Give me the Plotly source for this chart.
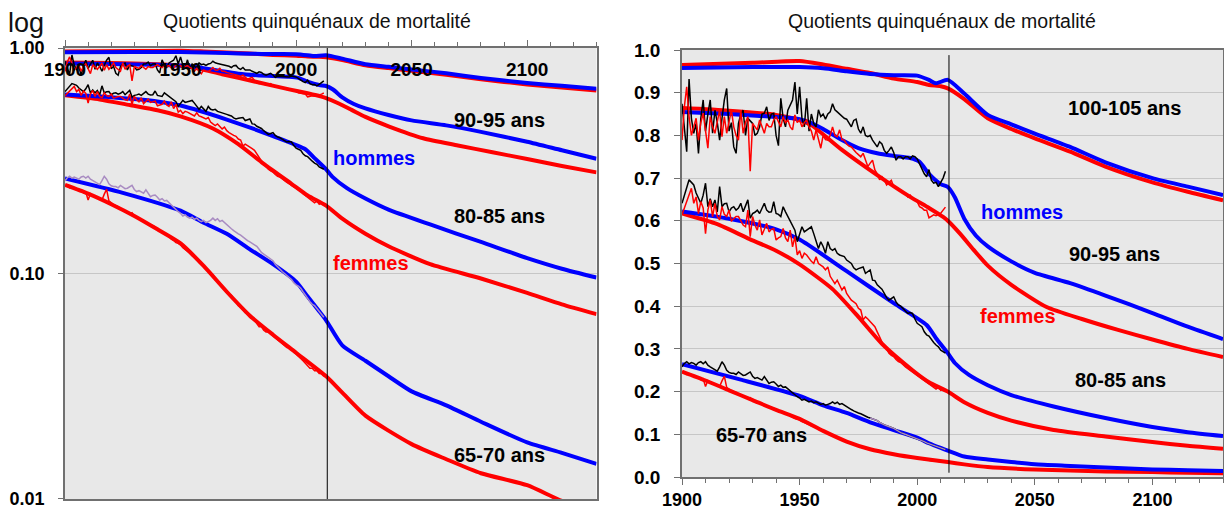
import plotly.graph_objects as go

# ---------------- data ----------------
OBS_START = 1900          # observed series are annual from 1900
PROJ_START = 2013.5       # start of projections (vertical line)

# observed quotients (annual, 1900-2012)
M90_OBS = [0.874, 0.82, 0.762, 0.932, 0.84, 0.805, 0.828, 0.758, 0.84, 0.883,
           0.81, 0.85, 0.883, 0.805, 0.859, 0.83, 0.789, 0.84, 0.883, 0.91,
           0.81, 0.83, 0.773, 0.758, 0.828, 0.85, 0.859, 0.80, 0.84, 0.834,
           0.828, 0.80, 0.805, 0.82, 0.85, 0.852, 0.867, 0.835, 0.85, 0.852,
           0.80, 0.776, 0.887, 0.84, 0.82, 0.859, 0.87, 0.883, 0.925, 0.85,
           0.914, 0.84, 0.82, 0.887, 0.81, 0.85, 0.828, 0.82, 0.86, 0.844,
           0.85, 0.838, 0.85, 0.855, 0.874, 0.86, 0.855, 0.85, 0.845, 0.84,
           0.838, 0.83, 0.82, 0.835, 0.838, 0.815, 0.805, 0.82, 0.80, 0.797,
           0.80, 0.789, 0.78, 0.773, 0.785, 0.78, 0.765, 0.758, 0.765, 0.773,
           0.76, 0.742, 0.75, 0.75, 0.745, 0.75, 0.75, 0.745, 0.752, 0.75,
           0.745, 0.734, 0.72, 0.71, 0.703, 0.72, 0.695, 0.688, 0.69, 0.68,
           0.69, 0.70, 0.716]
W90_OBS = [0.789, 0.867, 0.914, 0.844, 0.80, 0.82, 0.84, 0.789, 0.83, 0.852,
           0.813, 0.77, 0.844, 0.82, 0.805, 0.83, 0.859, 0.797, 0.844, 0.805,
           0.83, 0.859, 0.82, 0.80, 0.789, 0.859, 0.805, 0.83, 0.844, 0.716,
           0.828, 0.82, 0.813, 0.836, 0.82, 0.805, 0.828, 0.82, 0.82, 0.836,
           0.844, 0.83, 0.82, 0.844, 0.83, 0.836, 0.82, 0.813, 0.848, 0.83,
           0.836, 0.82, 0.83, 0.836, 0.82, 0.81, 0.789, 0.813, 0.79, 0.77,
           0.80, 0.79, 0.789, 0.80, 0.82, 0.80, 0.797, 0.813, 0.79, 0.789,
           0.78, 0.775, 0.773, 0.766, 0.76, 0.755, 0.75, 0.758, 0.74, 0.727,
           0.735, 0.742, 0.719, 0.71, 0.696, 0.703, 0.695, 0.684, 0.69, 0.695,
           0.68, 0.678, 0.675, 0.672, 0.668, 0.664, 0.656, 0.66, 0.652, 0.649,
           0.645, 0.633, 0.63, 0.625, 0.625, 0.607, 0.61, 0.614, 0.612, 0.616,
           0.618, 0.625, 0.632]
M80_OBS = [0.641, 0.66, 0.68, 0.696, 0.69, 0.684, 0.665, 0.652, 0.641, 0.66,
           0.688, 0.633, 0.652, 0.633, 0.649, 0.621, 0.68, 0.633, 0.64, 0.641,
           0.621, 0.63, 0.633, 0.625, 0.63, 0.641, 0.621, 0.635, 0.649, 0.606,
           0.617, 0.62, 0.625, 0.617, 0.63, 0.641, 0.625, 0.62, 0.621, 0.645,
           0.617, 0.615, 0.61, 0.633, 0.621, 0.61, 0.602, 0.59, 0.578, 0.551,
           0.57, 0.586, 0.574, 0.578, 0.582, 0.586, 0.57, 0.555, 0.535, 0.551,
           0.54, 0.524, 0.551, 0.535, 0.531, 0.535, 0.524, 0.52, 0.518, 0.516,
           0.508, 0.504, 0.50, 0.49, 0.485, 0.488, 0.49, 0.492, 0.477, 0.48,
           0.485, 0.461, 0.46, 0.45, 0.446, 0.44, 0.43, 0.42, 0.414, 0.418,
           0.422, 0.41, 0.403, 0.40, 0.395, 0.39, 0.383, 0.385, 0.383, 0.37,
           0.36, 0.356, 0.352, 0.34, 0.333, 0.33, 0.321, 0.315, 0.309, 0.305,
           0.297, 0.294, 0.29]
W80_OBS = [0.614, 0.63, 0.649, 0.66, 0.676, 0.641, 0.656, 0.617, 0.645, 0.63,
           0.57, 0.625, 0.649, 0.61, 0.641, 0.61, 0.602, 0.633, 0.615, 0.61,
           0.625, 0.60, 0.606, 0.61, 0.61, 0.60, 0.59, 0.586, 0.625, 0.563,
           0.61, 0.59, 0.578, 0.602, 0.567, 0.58, 0.594, 0.574, 0.58, 0.582,
           0.555, 0.56, 0.563, 0.582, 0.56, 0.551, 0.578, 0.539, 0.563, 0.52,
           0.53, 0.512, 0.524, 0.52, 0.512, 0.505, 0.50, 0.516, 0.50, 0.496,
           0.492, 0.485, 0.492, 0.47, 0.461, 0.453, 0.461, 0.45, 0.438, 0.446,
           0.43, 0.422, 0.414, 0.41, 0.406, 0.395, 0.391, 0.368, 0.375, 0.37,
           0.364, 0.358, 0.352, 0.34, 0.329, 0.318, 0.305, 0.30, 0.29, 0.285,
           0.282, 0.275, 0.27, 0.268, 0.262, 0.258, 0.254, 0.25, 0.248, 0.243,
           0.24, 0.236, 0.232, 0.226, 0.222, 0.218, 0.215, 0.21, 0.206, 0.21,
           0.203, 0.206, 0.20]
M65_OBS = [0.258, 0.266, 0.27, 0.265, 0.268, 0.266, 0.262, 0.268, 0.27, 0.265,
           0.27, 0.262, 0.258, 0.255, 0.25, 0.248, 0.258, 0.27, 0.262, 0.25,
           0.245, 0.243, 0.243, 0.24, 0.246, 0.242, 0.238, 0.239, 0.242, 0.246,
           0.236, 0.231, 0.233, 0.23, 0.227, 0.235, 0.228, 0.219, 0.222, 0.223,
           0.218, 0.212, 0.215, 0.21, 0.211, 0.206, 0.203, 0.198, 0.192, 0.188,
           0.185, 0.18, 0.182, 0.178, 0.176, 0.178, 0.174, 0.176, 0.172, 0.17,
           0.172, 0.168, 0.17, 0.172, 0.176, 0.172, 0.175, 0.17, 0.172, 0.168,
           0.165, 0.162, 0.158, 0.155, 0.152, 0.15, 0.148, 0.145, 0.142, 0.14,
           0.138, 0.136, 0.135, 0.132, 0.128, 0.124, 0.122, 0.12, 0.117, 0.116,
           0.114, 0.11, 0.107, 0.104, 0.102, 0.10, 0.098, 0.096, 0.094, 0.091,
           0.089, 0.088, 0.086, 0.083, 0.08, 0.078, 0.075, 0.073, 0.072, 0.07,
           0.068, 0.066, 0.064]
W65_OBS = [0.246, 0.244, 0.24, 0.242, 0.238, 0.236, 0.233, 0.232, 0.228, 0.23,
           0.212, 0.226, 0.222, 0.218, 0.216, 0.214, 0.212, 0.225, 0.236, 0.21,
           0.205, 0.202, 0.20, 0.198, 0.194, 0.19, 0.188, 0.186, 0.184, 0.186,
           0.18, 0.178, 0.176, 0.172, 0.17, 0.168, 0.166, 0.164, 0.162, 0.161,
           0.157, 0.156, 0.153, 0.15, 0.148, 0.146, 0.142, 0.14, 0.137, 0.136,
           0.134, 0.13, 0.128, 0.126, 0.123, 0.12, 0.118, 0.116, 0.112, 0.11,
           0.108, 0.106, 0.102, 0.101, 0.098, 0.094, 0.093, 0.09, 0.088, 0.086,
           0.082, 0.081, 0.08, 0.077, 0.075, 0.072, 0.071, 0.069, 0.067, 0.066,
           0.064, 0.063, 0.062, 0.06, 0.058, 0.058, 0.056, 0.055, 0.055, 0.054,
           0.053, 0.052, 0.051, 0.05, 0.049, 0.048, 0.047, 0.047, 0.046, 0.045,
           0.044, 0.043, 0.042, 0.041, 0.04, 0.039, 0.038, 0.038, 0.037, 0.037,
           0.036, 0.036, 0.035]
M65_LILAC_FROM = 1980     # right panel: other source overlaid from this year

# smoothed / projected quotients
S100_M_YEARS = [1900, 1930, 1950, 1960, 1970, 1980, 1990, 2000, 2005, 2008, 2013, 2020,
                2030, 2040, 2050, 2065, 2080, 2100, 2115, 2130]
S100_M = [0.958, 0.96, 0.96, 0.957, 0.95, 0.944, 0.941, 0.94, 0.93, 0.922, 0.93, 0.898,
          0.848, 0.826, 0.804, 0.773, 0.737, 0.70, 0.68, 0.66]
S100_F_YEARS = [1900, 1930, 1950, 1960, 1970, 1980, 1990, 2000, 2005, 2010, 2013, 2020,
                2030, 2040, 2050, 2065, 2080, 2100, 2115, 2130]
S100_F = [0.965, 0.97, 0.974, 0.966, 0.956, 0.946, 0.933, 0.925, 0.918, 0.915, 0.91, 0.885,
          0.84, 0.815, 0.793, 0.762, 0.727, 0.69, 0.668, 0.648]
S90_M_YEARS = [1900, 1920, 1940, 1950, 1955, 1960, 1968, 1975, 1983, 1990, 1997, 2001, 2005,
               2010, 2013, 2016, 2020, 2025, 2030, 2040, 2050, 2065, 2080, 2100, 2115, 2130]
S90_M = [0.855, 0.85, 0.843, 0.838, 0.829, 0.815, 0.789, 0.77, 0.758, 0.752, 0.747, 0.738, 0.71,
         0.686, 0.679, 0.655, 0.605, 0.565, 0.54, 0.505, 0.478, 0.454, 0.425, 0.384, 0.352, 0.323]
S90_F_YEARS = [1900, 1920, 1940, 1950, 1955, 1968, 1983, 1997, 2005, 2011, 2013, 2018, 2024,
               2030, 2040, 2055, 2070, 2085, 2100, 2115, 2130]
S90_F = [0.864, 0.858, 0.848, 0.836, 0.824, 0.766, 0.707, 0.656, 0.63, 0.609, 0.60, 0.571, 0.532,
         0.495, 0.45, 0.398, 0.37, 0.345, 0.322, 0.30, 0.281]
S80_M_YEARS = [1900, 1920, 1940, 1950, 1970, 1990, 2004, 2008, 2013, 2016, 2022, 2030, 2040,
               2058, 2080, 2100, 2115, 2130]
S80_M = [0.622, 0.605, 0.58, 0.556, 0.482, 0.407, 0.356, 0.325, 0.29, 0.267, 0.239, 0.215, 0.192,
         0.165, 0.138, 0.117, 0.105, 0.096]
S80_F_YEARS = [1900, 1915, 1928, 1940, 1950, 1964, 1975, 1985, 1998, 2005, 2013, 2020, 2030,
               2040, 2058, 2080, 2100, 2115, 2130]
S80_F = [0.617, 0.592, 0.559, 0.53, 0.498, 0.44, 0.375, 0.312, 0.25, 0.222, 0.20, 0.175, 0.15,
         0.132, 0.11, 0.095, 0.082, 0.073, 0.066]
S65_M_YEARS = [1900, 1925, 1950, 1960, 1970, 1980, 1990, 2000, 2005, 2010, 2013, 2020, 2030,
               2040, 2050, 2065, 2080, 2100, 2115, 2130]
S65_M = [0.264, 0.228, 0.19, 0.168, 0.15, 0.128, 0.11, 0.092, 0.079, 0.068, 0.062, 0.048, 0.041,
         0.035, 0.030, 0.026, 0.022, 0.0178, 0.016, 0.0143]
S65_F_YEARS = [1900, 1910, 1920, 1930, 1940, 1950, 1960, 1970, 1980, 1990, 2000, 2013, 2020,
               2030, 2050, 2065, 2080, 2100, 2115, 2130]
S65_F = [0.247, 0.226, 0.203, 0.18, 0.157, 0.136, 0.108, 0.083, 0.065, 0.0535, 0.0445, 0.035,
         0.0296, 0.0234, 0.0175, 0.015, 0.013, 0.0115, 0.0098, 0.0088]

TITLE = "Quotients quinquénaux de mortalité"
X_TICKS = [1900, 1950, 2000, 2050, 2100]
LOG_TICKS = [0.01, 0.1, 1.0]
LOG_TICKTEXT = ["0.01", "0.10", "1.00"]

# ---------------- style ----------------
W, H = 1224, 510
BLUE, RED, BLACK, LILAC = "#0000ff", "#ff0000", "#000000", "#a98cc2"
FONT = "Arial, Liberation Sans, sans-serif"
BG = "#e8e8e8"
GRID = "#c6c6c6"
AXC = "#707070"
LEFT_TOP, LEFT_BOTTOM = 48, 499


def years(arr):
    return list(range(OBS_START, OBS_START + len(arr)))


fig = go.Figure()


def add_panel(xa, ya, observed):
    smooth = [(S100_F_YEARS, S100_F, RED), (S100_M_YEARS, S100_M, BLUE),
              (S90_F_YEARS, S90_F, RED), (S90_M_YEARS, S90_M, BLUE),
              (S80_F_YEARS, S80_F, RED), (S80_M_YEARS, S80_M, BLUE),
              (S65_F_YEARS, S65_F, RED), (S65_M_YEARS, S65_M, BLUE)]
    for xs, ys, c in smooth:
        fig.add_trace(go.Scatter(x=xs, y=ys, mode="lines", xaxis=xa, yaxis=ya,
                                 line=dict(color=c, width=4, shape="spline", smoothing=0.6),
                                 showlegend=False, hoverinfo="skip"))
    for arr, c in observed:
        fig.add_trace(go.Scatter(x=years(arr), y=arr, mode="lines", xaxis=xa, yaxis=ya,
                                 line=dict(color=c, width=1.5), showlegend=False,
                                 hoverinfo="skip"))


add_panel("x", "y", [(M90_OBS, BLACK), (W90_OBS, RED), (M80_OBS, BLACK), (W80_OBS, RED),
                     (M65_OBS, LILAC), (W65_OBS, RED)])
add_panel("x2", "y2", [(M90_OBS, BLACK), (W90_OBS, RED), (M80_OBS, BLACK), (W80_OBS, RED),
                       (M65_OBS, BLACK), (W65_OBS, RED)])
# lilac overlay of the 65-70 male series in the right panel
idx = M65_LILAC_FROM - OBS_START
fig.add_trace(go.Scatter(x=years(M65_OBS)[idx:], y=M65_OBS[idx:], mode="lines",
                         xaxis="x2", yaxis="y2", line=dict(color=LILAC, width=1.5),
                         showlegend=False, hoverinfo="skip"))

tickfont = dict(family=FONT, size=19, color="black", weight="bold")
tickfont_small = dict(family=FONT, size=18, color="black", weight="bold")

fig.update_layout(
    width=W, height=H, autosize=False,
    margin=dict(l=0, r=0, t=0, b=0, autoexpand=False),
    paper_bgcolor="white", plot_bgcolor=BG,
    xaxis=dict(domain=[65 / W, 596.5 / W], anchor="y", range=[1900, 2130], side="top",
               automargin=False,
               showline=True, mirror=True, linecolor=AXC, linewidth=1.5,
               ticks="outside", ticklen=6, tickcolor=AXC, tickvals=X_TICKS,
               ticklabelposition="inside", ticklabeloverflow="allow", ticklabelstandoff=16,
               tickfont=tickfont,
               minor=dict(dtick=10, tick0=1900, ticks="outside", ticklen=4, tickcolor=AXC),
               showgrid=False, zeroline=False),
    yaxis=dict(domain=[1 - LEFT_BOTTOM / H, 1 - LEFT_TOP / H], anchor="x", type="log",
               range=[-2.0004, 0.0004],
               automargin=False, ticklabeloverflow="allow",
               tickvals=LOG_TICKS, ticktext=LOG_TICKTEXT, ticks="outside", ticklen=5,
               tickcolor=AXC, showline=True, mirror=True, linecolor=AXC, linewidth=1.5,
               showgrid=True, gridcolor=GRID, gridwidth=1, tickfont=tickfont_small,
               ticklabelstandoff=10, zeroline=False),
    xaxis2=dict(domain=[682 / W, 1223 / W], anchor="y2", range=[1900, 2130],
                automargin=False, ticklabeloverflow="allow",
                showline=True, mirror=True, linecolor=AXC, linewidth=1.5,
                ticks="outside", ticklen=6, tickcolor=AXC, tickvals=X_TICKS,
                tickfont=tickfont_small, ticklabelstandoff=0,
                minor=dict(dtick=10, tick0=1900, ticks="outside", ticklen=4, tickcolor=AXC),
                showgrid=False, zeroline=False),
    yaxis2=dict(domain=[1 - 477 / H, 1 - 50 / H], anchor="x2", range=[0, 1.0], dtick=0.1,
                automargin=False,
                tickformat=".1f", ticks="outside", ticklen=6, tickcolor=AXC,
                showline=True, mirror=True, linecolor=AXC, linewidth=1.5,
                showgrid=True, gridcolor=GRID, gridwidth=1, tickfont=tickfont,
                ticklabelstandoff=10, zeroline=False),
)

# projection start lines
fig.add_shape(type="line", xref="x", yref="y domain", x0=PROJ_START, x1=PROJ_START,
              y0=0, y1=1, line=dict(color="black", width=1))
fig.add_shape(type="line", xref="x2", yref="y2 domain", x0=PROJ_START, x1=PROJ_START,
              y0=0.01, y1=0.988, line=dict(color="black", width=1))

lab = dict(family=FONT, size=20, weight="bold")
annots = [
    # left panel (log axis -> log10 positions)
    dict(x=2088, y=-0.317, xref="x", yref="y", text="90-95 ans", font=dict(lab, color="black")),
    dict(x=2033.6, y=-0.489, xref="x", yref="y", text="hommes", font=dict(lab, color=BLUE)),
    dict(x=2088, y=-0.744, xref="x", yref="y", text="80-85 ans", font=dict(lab, color="black")),
    dict(x=2032.3, y=-0.952, xref="x", yref="y", text="femmes", font=dict(lab, color=RED)),
    dict(x=2088, y=-1.806, xref="x", yref="y", text="65-70 ans", font=dict(lab, color="black")),
    # right panel
    dict(x=2088, y=0.864, xref="x2", yref="y2", text="100-105 ans", font=dict(lab, color="black")),
    dict(x=2044.7, y=0.621, xref="x2", yref="y2", text="hommes", font=dict(lab, color=BLUE)),
    dict(x=2083.8, y=0.522, xref="x2", yref="y2", text="90-95 ans", font=dict(lab, color="black")),
    dict(x=2043, y=0.377, xref="x2", yref="y2", text="femmes", font=dict(lab, color=RED)),
    dict(x=2086.4, y=0.227, xref="x2", yref="y2", text="80-85 ans", font=dict(lab, color="black")),
    dict(x=1934, y=0.0995, xref="x2", yref="y2", text="65-70 ans", font=dict(lab, color="black")),
    # titles
    dict(x=317 / W, y=1 - 21 / H, xref="paper", yref="paper", text=TITLE,
         font=dict(family=FONT, size=19.5, color="#111")),
    dict(x=942 / W, y=1 - 21 / H, xref="paper", yref="paper", text=TITLE,
         font=dict(family=FONT, size=19.5, color="#111")),
    dict(x=26 / W, y=1 - 23 / H, xref="paper", yref="paper", text="log",
         font=dict(family=FONT, size=27, color="#111")),
]
for a in annots:
    a.update(showarrow=False, xanchor="center", yanchor="middle")
    fig.add_annotation(**a)

fig.write_html("out.html")
